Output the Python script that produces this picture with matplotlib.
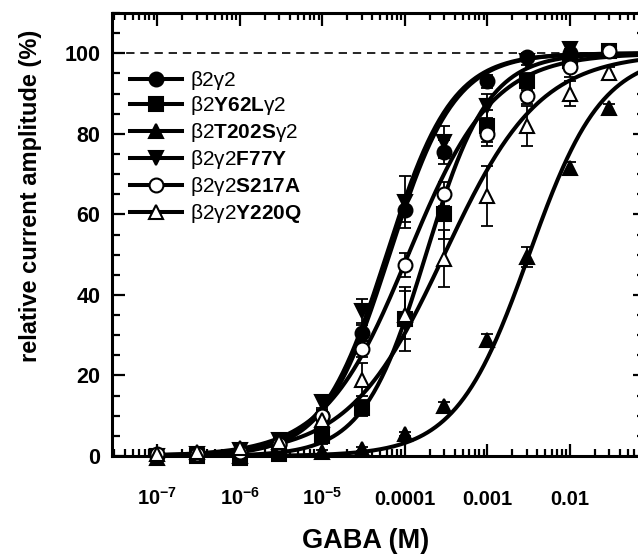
import numpy as np
import matplotlib
matplotlib.use("Agg")
import matplotlib.pyplot as plt
from matplotlib.lines import Line2D
from matplotlib.ticker import FixedLocator, MultipleLocator, LogLocator, NullFormatter

plt.rcParams['font.family'] = ['Liberation Sans', 'DejaVu Sans']
plt.rcParams['mathtext.fontset'] = 'custom'
plt.rcParams['mathtext.rm'] = 'Liberation Sans'
plt.rcParams['mathtext.bf'] = 'Liberation Sans:bold'
plt.rcParams['mathtext.it'] = 'Liberation Sans:italic'

# GABA concentrations (M)
conc = [1e-7, 3e-7, 1e-6, 3e-6, 1e-5, 3e-5, 1e-4, 3e-4, 1e-3, 3e-3, 1e-2, 3e-2]

labels = [r"β2γ2",
          r"β2$\mathbf{Y62L}$γ2",
          r"β2$\mathbf{T202S}$γ2",
          r"β2γ2$\mathbf{F77Y}$",
          r"β2γ2$\mathbf{S217A}$",
          r"β2γ2$\mathbf{Y220Q}$"]

# relative current amplitude (%), NaN = not measured
wt_y     = [0, 0.5, 1, 3, 10, 30.5, 61, 75.5, 93, 99, 100, np.nan]
wt_err   = [0.5, 0.5, 0.5, 1, 1.5, 2, 3, 3, 1.5, 1, 1, np.nan]
y62l_y   = [np.nan, 0, -0.5, 0.5, 5, 12, 34, 60, 82, 93, 98, 100.5]
y62l_err = [np.nan, 0.5, 0.5, 0.5, 2, 2, 8, 6, 4, 2, 1, 1]
t202s_y  = [-0.5, np.nan, 0, np.nan, 1, 1.7, 5.5, 12.5, 28.7, 49.5, 71.5, 86.5]
t202s_err = [0.5, np.nan, 0.5, np.nan, 0.5, 0.5, 0.5, 1, 1.5, 2.5, 1.5, 1]
f77y_y   = [0, 0.5, 1.5, 4, 13.5, 36, 63, 78, 87, 98, 101, np.nan]
f77y_err = [0.5, 0.5, 0.5, 1, 1.5, 3, 6.5, 4, 3, 1, 1, np.nan]
s217a_y  = [0.5, 0.5, 1, 3, 10, 26.5, 47.5, 65, 80, 89.5, 96.5, 100.5]
s217a_err = [0.5, 0.5, 0.5, 1, 1.5, 2, 3, 3, 3, 2, 2.5, 1]
y220q_y  = [0.5, 1, 2, 3.5, 9, 19, 35, 49, 64.5, 82, 90, 95]
y220q_err = [0.5, 0.5, 0.5, 1, 2, 4, 6, 7, 7.5, 5, 3, 1.5]

# Hill fit parameters
ec50 = [6.5e-5, 1.8e-4, 3.2e-3, 6.0e-5, 1.1e-4, 3.0e-4]
nhill = [1.1, 1.15, 0.98, 1.1, 0.85, 0.75]

series_y = [wt_y, y62l_y, t202s_y, f77y_y, s217a_y, y220q_y]
series_err = [wt_err, y62l_err, t202s_err, f77y_err, s217a_err, y220q_err]
markers = ['o', 's', '^', 'v', 'o', '^']
faces = ['k', 'k', 'k', 'k', 'w', 'w']

fig = plt.figure(figsize=(6.38, 5.57), dpi=100)
ax = fig.add_axes([0.1755, 0.1813, 0.8354, 0.7953])

xs = np.logspace(-7, -0.5, 400)
for i in range(6):
    ax.plot(xs, 100 * xs**nhill[i] / (xs**nhill[i] + ec50[i]**nhill[i]),
            color='k', lw=2.9, zorder=3)

handles = []
for i in range(6):
    ax.errorbar(conc, series_y[i], yerr=series_err[i], fmt='none', ecolor='k',
                elinewidth=1.3, capsize=4, capthick=1.3, zorder=4, clip_on=False)
    ax.plot(conc, series_y[i], ls='none', marker=markers[i], ms=10,
            mfc=faces[i], mec='k', mew=1.5, zorder=5, clip_on=False)
    handles.append(Line2D([], [], color='k', lw=2.9, marker=markers[i], ms=10,
                          mfc=faces[i], mec='k', mew=1.5))

ax.axhline(100, color='k', lw=1.2, ls=(0, (5, 3.5)), zorder=2)

ax.set_xscale('log')
ax.set_xlim(10**-7.55, 10**-1.09)
ax.set_ylim(0, 110)

ax.xaxis.set_major_locator(FixedLocator([1e-7, 1e-6, 1e-5, 1e-4, 1e-3, 1e-2, 1e-1]))
ax.set_xticklabels([r"$\mathbf{10^{-7}}$", r"$\mathbf{10^{-6}}$", r"$\mathbf{10^{-5}}$",
                    "0.0001", "0.001", "0.01", "0.1"], fontsize=14.5, fontweight='bold')
ax.xaxis.set_minor_locator(LogLocator(base=10, subs=np.arange(2, 10), numticks=20))
ax.xaxis.set_minor_formatter(NullFormatter())
plt.setp(ax.get_xticklabels(), va='baseline')

ax.yaxis.set_minor_locator(MultipleLocator(5))
ax.set_yticks([0, 20, 40, 60, 80, 100])
ax.set_yticklabels(["0", "20", "40", "60", "80", "100"], fontsize=15.5, fontweight='bold')

ax.tick_params(which='both', direction='in', top=True, right=True, width=1.6)
ax.tick_params(axis='x', which='major', length=9, pad=35)
ax.tick_params(axis='x', which='minor', length=5)
ax.tick_params(axis='y', which='major', length=9, pad=8.5)
ax.tick_params(axis='y', which='minor', length=6)
for s in ax.spines.values():
    s.set_linewidth(2.2)

fig.text(31 / 638, 1 - 196 / 557, "relative current amplitude (%)", rotation=90,
         ha='center', va='center', fontsize=17, fontweight='bold')
fig.text(366 / 638, 1 - 541 / 557, "GABA (M)", ha='center', va='center',
         fontsize=19.5, fontweight='bold')

ax.legend(handles, labels, loc='upper left', bbox_to_anchor=(0.034, 0.869),
          frameon=False, fontsize=15, handlelength=2.5, handletextpad=0.38,
          labelspacing=0.19, borderpad=0, borderaxespad=0)

fig.savefig("out.png", dpi=100)
